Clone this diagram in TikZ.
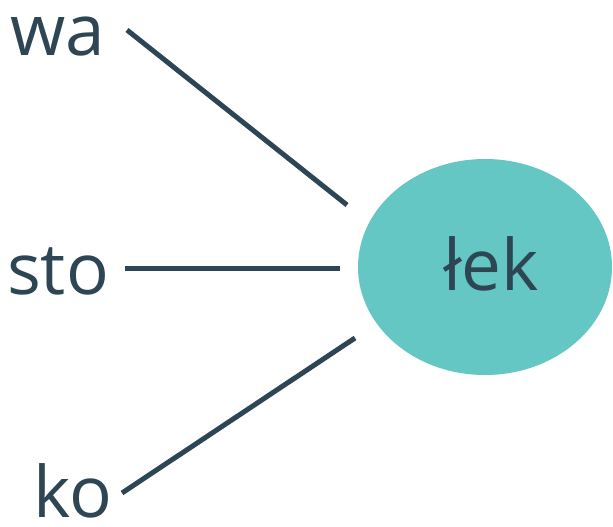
\documentclass[tikz,border=0pt]{standalone}
\usepackage{fontspec}
\setmainfont{Open Sans}
\usepackage{tikz}
\usetikzlibrary{shapes.geometric}
\definecolor{inkdark}{HTML}{2E4553}
\definecolor{tealfill}{HTML}{64C7C3}

\begin{document}
\begin{tikzpicture}[x=1pt, y=-1pt,
    syl/.style = {text=inkdark, inner sep=0pt, anchor=base, text depth=0pt, font=\fontsize{71}{78}\selectfont},
    core/.style = {ellipse, fill=tealfill, text=inkdark, inner sep=0pt, minimum width=254pt, minimum height=216pt},
    link/.style = {draw=inkdark, line width=5pt}]
        \useasboundingbox (0,0) rectangle (613,527);
        \node[core] (lek) at (485,267) {};
        \node[syl] (lektext) at (491,290) {łek};
        \node[syl] (wa) at (58,56) {wa};
        \node[syl] (sto) at (58,294) {sto};
        \node[syl] (ko) at (73,517) {ko};
        % free ends of the connectors
        \coordinate (wa-out) at (127,30);
        \coordinate (sto-out) at (125,268);
        \coordinate (ko-out) at (122,493);
        \coordinate (lek-wa) at (347,205);
        \coordinate (lek-sto) at (340,268);
        \coordinate (lek-ko) at (355,338);
        \draw[link] (wa-out) -- (lek-wa);
        \draw[link] (sto-out) -- (lek-sto);
        \draw[link] (ko-out) -- (lek-ko);
    \end{tikzpicture}
\end{document}
